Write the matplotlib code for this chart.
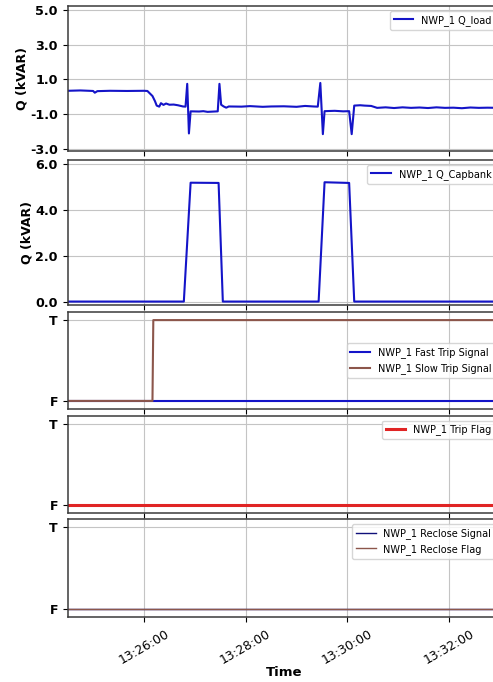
import matplotlib
matplotlib.use('Agg')
import matplotlib.pyplot as plt
import matplotlib.dates as mdates
import pandas as pd

day = '2023-05-10 '

# reactive power of the load (kVAR)
load_t = ['13:24:30', '13:24:45', '13:25:00', '13:25:02', '13:25:05', '13:25:20', '13:25:40',
          '13:26:00', '13:26:04', '13:26:10', '13:26:13', '13:26:15', '13:26:18', '13:26:20',
          '13:26:23', '13:26:26', '13:26:30', '13:26:35', '13:26:40', '13:26:46', '13:26:49',
          '13:26:51', '13:26:53', '13:26:55', '13:27:05', '13:27:10', '13:27:15', '13:27:27',
          '13:27:29', '13:27:31', '13:27:34', '13:27:37', '13:27:40', '13:27:55', '13:28:05',
          '13:28:20', '13:28:30', '13:28:45', '13:29:00', '13:29:10', '13:29:20', '13:29:25',
          '13:29:28', '13:29:31', '13:29:33', '13:29:45', '13:29:55', '13:30:02', '13:30:05',
          '13:30:08', '13:30:15', '13:30:20', '13:30:28', '13:30:35', '13:30:45', '13:30:55',
          '13:31:05', '13:31:15', '13:31:25', '13:31:35', '13:31:45', '13:31:55', '13:32:05',
          '13:32:15', '13:32:25', '13:32:35', '13:32:45', '13:33:00']
load_q = [0.35, 0.37, 0.34, 0.24, 0.33, 0.35, 0.34,
          0.35, 0.34, 0.05, -0.25, -0.5, -0.56, -0.36,
          -0.46, -0.38, -0.45, -0.44, -0.48, -0.55, -0.56,
          0.75, -2.1, -0.83, -0.84, -0.82, -0.86, -0.83,
          0.75, -0.45, -0.55, -0.62, -0.55, -0.56, -0.53,
          -0.57, -0.55, -0.54, -0.57, -0.52, -0.55, -0.56,
          0.8, -2.14, -0.82, -0.8, -0.83, -0.82, -2.14,
          -0.5, -0.48, -0.5, -0.52, -0.63, -0.6, -0.64,
          -0.6, -0.63, -0.61, -0.64, -0.6, -0.63, -0.62,
          -0.65, -0.61, -0.63, -0.62, -0.63]

# reactive power of the capacitor bank (kVAR)
cap_t = ['13:24:30', '13:26:47', '13:26:55', '13:27:28', '13:27:33',
         '13:29:26', '13:29:33', '13:30:02', '13:30:08', '13:33:00']
cap_q = [0.0, 0.0, 5.18, 5.17, 0.0, 0.0, 5.2, 5.17, 0.0, 0.0]

# protection signals (0 = F, 1 = T)
sig_t = ['13:24:30', '13:26:10', '13:26:11', '13:33:00']
fast_trip = [0, 0, 0, 0]
slow_trip = [0, 0, 1, 1]
trip_flag = [0, 0, 0, 0]
reclose_sig = [0, 0, 0, 0]
reclose_flag = [0, 0, 0, 0]

lt = pd.to_datetime([day + s for s in load_t])
ct = pd.to_datetime([day + s for s in cap_t])
st = pd.to_datetime([day + s for s in sig_t])

fig, axs = plt.subplots(5, 1, sharex=True, figsize=(4.93, 6.82), dpi=100)

pos = [(0.7793, 0.2119), (0.5528, 0.2126), (0.4003, 0.1422), (0.2478, 0.1427), (0.0949, 0.1437)]
for ax, (b, h) in zip(axs, pos):
    ax.set_position([0.1373, b, 0.877, h])

blue = '#1414c8'
brown = '#8c564b'

axs[0].plot(lt, load_q, color=blue, lw=1.5, label='NWP_1 Q_load')
axs[0].set_ylim(-3.08, 5.22)
axs[0].set_yticks([-3, -1, 1, 3, 5])

axs[1].plot(ct, cap_q, color=blue, lw=1.5, label='NWP_1 Q_Capbank')
axs[1].set_ylim(-0.15, 6.17)
axs[1].set_yticks([0, 2, 4, 6])

for ax in axs[:2]:
    ax.set_yticklabels(['%.1f' % v for v in ax.get_yticks()], fontweight='bold', fontsize=9.2)
    ax.set_ylabel('Q (kVAR)', fontweight='bold', fontsize=9, labelpad=1)

axs[2].plot(st, fast_trip, color=blue, lw=1.5, label='NWP_1 Fast Trip Signal')
axs[2].plot(st, slow_trip, color=brown, lw=1.5, label='NWP_1 Slow Trip Signal')
axs[3].plot(st, trip_flag, color='#e02424', lw=2.2, label='NWP_1 Trip Flag')
axs[4].plot(st, reclose_sig, color='#10107a', lw=1.0, label='NWP_1 Reclose Signal')
axs[4].plot(st, reclose_flag, color=brown, lw=1.0, label='NWP_1 Reclose Flag')

for ax in axs[2:]:
    ax.set_ylim(-0.1, 1.1)
    ax.set_yticks([0, 1])
    ax.set_yticklabels(['F', 'T'], fontweight='bold', fontsize=9)

for i, ax in enumerate(axs):
    ax.grid(True, color='#c4c4c4', lw=0.8)
    for sp in ax.spines.values():
        sp.set_color('#3a3a3a')
        sp.set_linewidth(1.1)
    loc = 'center right' if i == 2 else 'upper right'
    ax.legend(loc=loc, fontsize=7)

axs[4].set_xlim(st[0], st[-1])
axs[4].xaxis.set_major_locator(mdates.MinuteLocator(byminute=range(0, 60, 2)))
axs[4].xaxis.set_major_formatter(mdates.DateFormatter('%H:%M:%S'))
for lab in axs[4].get_xticklabels():
    lab.set_rotation(30)
    lab.set_fontsize(9)
axs[4].set_xlabel('Time', fontweight='bold', fontsize=9.5, labelpad=0)

plt.savefig('out.png', dpi=100)
